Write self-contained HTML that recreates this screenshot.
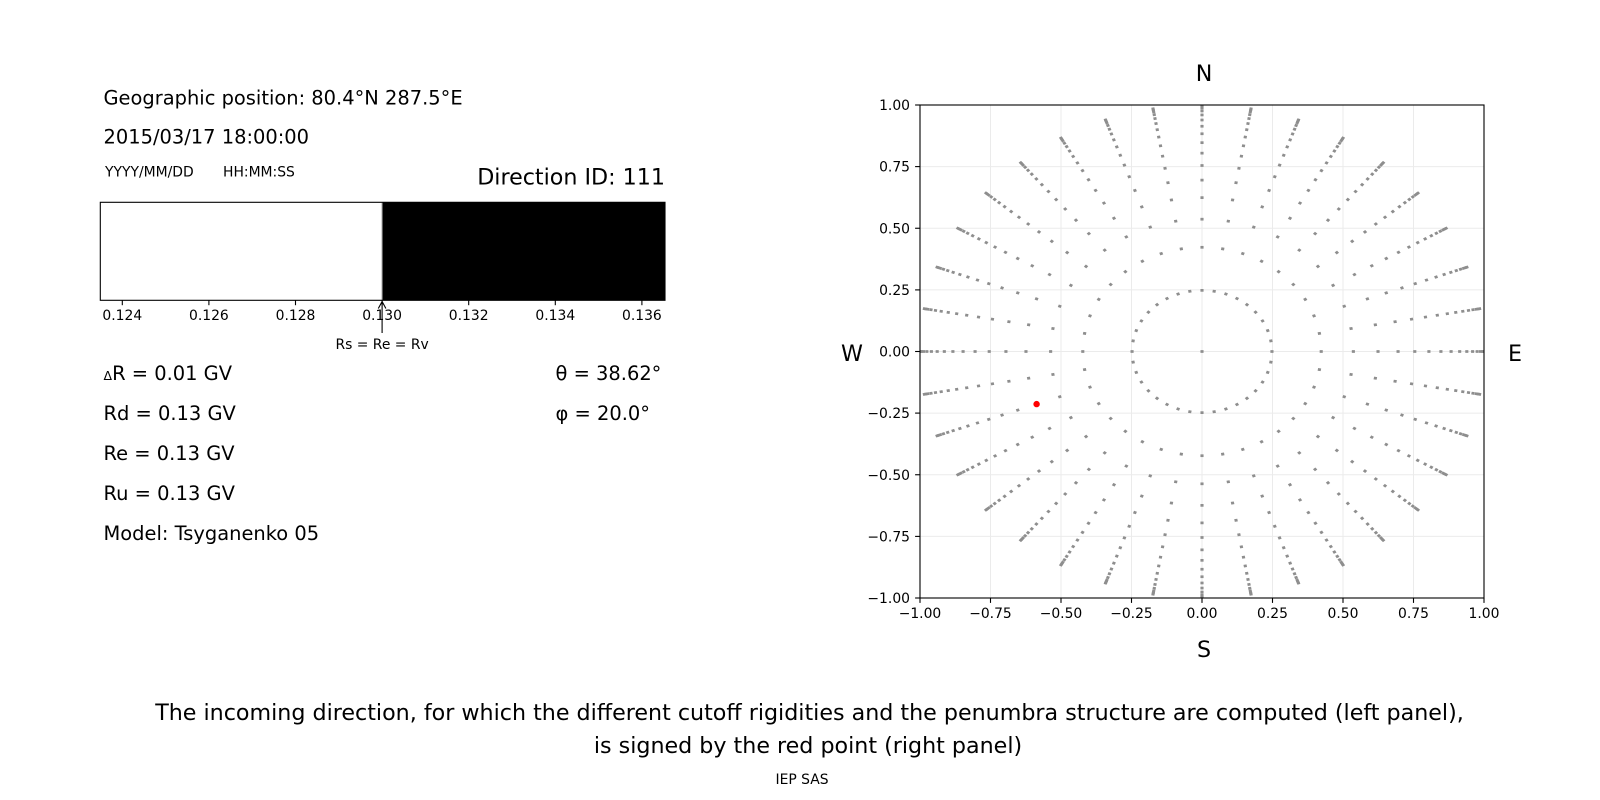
<!DOCTYPE html>
<html>
<head>
<meta charset="utf-8">
<style>
html,body{margin:0;padding:0;background:#fff;}
svg{display:block;}
text{font-family:"DejaVu Sans","Liberation Sans",sans-serif;fill:#000;}
</style>
</head>
<body>
<svg width="1600" height="800" viewBox="0 0 1600 800" xmlns="http://www.w3.org/2000/svg">
<defs>
  <clipPath id="axclip"><rect x="920" y="105" width="564" height="493"/></clipPath>
  <g id="sp" fill="#8e8e8e">
    <rect x="0.24254" y="-0.0055" width="0.011" height="0.011"/>
    <rect x="0.41724" y="-0.0055" width="0.011" height="0.011"/>
    <rect x="0.53124" y="-0.0055" width="0.011" height="0.011"/>
    <rect x="0.61872" y="-0.0055" width="0.011" height="0.011"/>
    <rect x="0.68977" y="-0.0055" width="0.011" height="0.011"/>
    <rect x="0.74905" y="-0.0055" width="0.011" height="0.011"/>
    <rect x="0.79915" y="-0.0055" width="0.011" height="0.011"/>
    <rect x="0.84172" y="-0.0055" width="0.011" height="0.011"/>
    <rect x="0.87783" y="-0.0055" width="0.011" height="0.011"/>
    <rect x="0.90826" y="-0.0055" width="0.011" height="0.011"/>
    <rect x="0.93356" y="-0.0055" width="0.011" height="0.011"/>
    <rect x="0.95414" y="-0.0055" width="0.011" height="0.011"/>
    <rect x="0.97028" y="-0.0055" width="0.011" height="0.011"/>
    <rect x="0.98222" y="-0.0055" width="0.011" height="0.011"/>
    <rect x="0.99009" y="-0.0055" width="0.011" height="0.011"/>
    <rect x="0.99401" y="-0.0055" width="0.011" height="0.011"/>
  </g>
</defs>

<!-- Top-left text -->
<text x="103.5" y="104.3" font-size="19.44">Geographic position: 80.4°N 287.5°E</text>
<text x="103.5" y="143.3" font-size="19.44">2015/03/17 18:00:00</text>
<text x="105" y="176.7" font-size="13.9">YYYY/MM/DD</text>
<text x="223" y="176.7" font-size="13.9">HH:MM:SS</text>
<text x="665" y="184.5" font-size="22.2" text-anchor="end">Direction ID: 111</text>

<!-- Bar panel -->
<rect x="100.3" y="202.3" width="281.8" height="98" fill="#ffffff"/>
<rect x="382.1" y="202.3" width="282.9" height="98" fill="#000000"/>
<line x1="382.1" y1="202.3" x2="382.1" y2="300.3" stroke="#9a9a9a" stroke-width="1"/>
<rect x="100.3" y="202.3" width="564.7" height="98" fill="none" stroke="#000" stroke-width="1.1"/>
<g stroke="#000" stroke-width="1.1">
  <line x1="122.3" y1="300.3" x2="122.3" y2="305.2"/>
  <line x1="208.9" y1="300.3" x2="208.9" y2="305.2"/>
  <line x1="295.5" y1="300.3" x2="295.5" y2="305.2"/>
  <line x1="382.1" y1="300.3" x2="382.1" y2="305.2"/>
  <line x1="468.7" y1="300.3" x2="468.7" y2="305.2"/>
  <line x1="555.3" y1="300.3" x2="555.3" y2="305.2"/>
  <line x1="641.9" y1="300.3" x2="641.9" y2="305.2"/>
</g>
<g font-size="13.9" text-anchor="middle">
  <text x="122.3" y="320">0.124</text>
  <text x="208.9" y="320">0.126</text>
  <text x="295.5" y="320">0.128</text>
  <text x="382.1" y="320">0.130</text>
  <text x="468.7" y="320">0.132</text>
  <text x="555.3" y="320">0.134</text>
  <text x="641.9" y="320">0.136</text>
</g>
<path d="M382.1,333 L382.1,301.5 M378.3,308.5 L382.1,301.5 L385.9,308.5" fill="none" stroke="#000" stroke-width="1.1"/>
<text x="382.1" y="349" font-size="13.9" text-anchor="middle">Rs = Re = Rv</text>

<!-- Values -->
<text x="103.5" y="380" font-size="19.44"><tspan font-size="12.5">Δ</tspan>R = 0.01 GV</text>
<text x="103.5" y="420" font-size="19.44">Rd = 0.13 GV</text>
<text x="103.5" y="460" font-size="19.44">Re = 0.13 GV</text>
<text x="103.5" y="500" font-size="19.44">Ru = 0.13 GV</text>
<text x="103.5" y="540" font-size="19.44">Model: Tsyganenko 05</text>
<text x="555.5" y="380" font-size="19.44">θ = 38.62°</text>
<text x="555.5" y="420" font-size="19.44">φ = 20.0°</text>

<!-- Right panel grid -->
<g stroke="#ebebeb" stroke-width="1">
  <line x1="990.5" y1="105" x2="990.5" y2="598"/>
  <line x1="1061" y1="105" x2="1061" y2="598"/>
  <line x1="1131.5" y1="105" x2="1131.5" y2="598"/>
  <line x1="1202" y1="105" x2="1202" y2="598"/>
  <line x1="1272.5" y1="105" x2="1272.5" y2="598"/>
  <line x1="1343" y1="105" x2="1343" y2="598"/>
  <line x1="1413.5" y1="105" x2="1413.5" y2="598"/>
  <line x1="920" y1="166.6" x2="1484" y2="166.6"/>
  <line x1="920" y1="228.25" x2="1484" y2="228.25"/>
  <line x1="920" y1="289.9" x2="1484" y2="289.9"/>
  <line x1="920" y1="351.5" x2="1484" y2="351.5"/>
  <line x1="920" y1="413.1" x2="1484" y2="413.1"/>
  <line x1="920" y1="474.75" x2="1484" y2="474.75"/>
  <line x1="920" y1="536.4" x2="1484" y2="536.4"/>
</g>

<!-- Scatter points -->
<g clip-path="url(#axclip)">
  <g transform="translate(1202,351.5) scale(282,-246.5)">
    <rect x="-0.0055" y="-0.0055" width="0.011" height="0.011" fill="#8e8e8e"/>
    <use href="#sp" transform="rotate(0)"/>
    <use href="#sp" transform="rotate(10)"/>
    <use href="#sp" transform="rotate(20)"/>
    <use href="#sp" transform="rotate(30)"/>
    <use href="#sp" transform="rotate(40)"/>
    <use href="#sp" transform="rotate(50)"/>
    <use href="#sp" transform="rotate(60)"/>
    <use href="#sp" transform="rotate(70)"/>
    <use href="#sp" transform="rotate(80)"/>
    <use href="#sp" transform="rotate(90)"/>
    <use href="#sp" transform="rotate(100)"/>
    <use href="#sp" transform="rotate(110)"/>
    <use href="#sp" transform="rotate(120)"/>
    <use href="#sp" transform="rotate(130)"/>
    <use href="#sp" transform="rotate(140)"/>
    <use href="#sp" transform="rotate(150)"/>
    <use href="#sp" transform="rotate(160)"/>
    <use href="#sp" transform="rotate(170)"/>
    <use href="#sp" transform="rotate(180)"/>
    <use href="#sp" transform="rotate(190)"/>
    <use href="#sp" transform="rotate(200)"/>
    <use href="#sp" transform="rotate(210)"/>
    <use href="#sp" transform="rotate(220)"/>
    <use href="#sp" transform="rotate(230)"/>
    <use href="#sp" transform="rotate(240)"/>
    <use href="#sp" transform="rotate(250)"/>
    <use href="#sp" transform="rotate(260)"/>
    <use href="#sp" transform="rotate(270)"/>
    <use href="#sp" transform="rotate(280)"/>
    <use href="#sp" transform="rotate(290)"/>
    <use href="#sp" transform="rotate(300)"/>
    <use href="#sp" transform="rotate(310)"/>
    <use href="#sp" transform="rotate(320)"/>
    <use href="#sp" transform="rotate(330)"/>
    <use href="#sp" transform="rotate(340)"/>
    <use href="#sp" transform="rotate(350)"/>
  </g>
  <circle cx="1036.6" cy="404.1" r="3.2" fill="#ff0000"/>
</g>

<!-- Right panel frame and ticks -->
<rect x="920" y="105" width="564" height="493" fill="none" stroke="#000" stroke-width="1.1"/>
<g stroke="#000" stroke-width="1.1">
  <line x1="915.1" y1="105" x2="920" y2="105"/>
  <line x1="915.1" y1="166.6" x2="920" y2="166.6"/>
  <line x1="915.1" y1="228.25" x2="920" y2="228.25"/>
  <line x1="915.1" y1="289.9" x2="920" y2="289.9"/>
  <line x1="915.1" y1="351.5" x2="920" y2="351.5"/>
  <line x1="915.1" y1="413.1" x2="920" y2="413.1"/>
  <line x1="915.1" y1="474.75" x2="920" y2="474.75"/>
  <line x1="915.1" y1="536.4" x2="920" y2="536.4"/>
  <line x1="915.1" y1="598" x2="920" y2="598"/>
  <line x1="920" y1="598" x2="920" y2="602.9"/>
  <line x1="990.5" y1="598" x2="990.5" y2="602.9"/>
  <line x1="1061" y1="598" x2="1061" y2="602.9"/>
  <line x1="1131.5" y1="598" x2="1131.5" y2="602.9"/>
  <line x1="1202" y1="598" x2="1202" y2="602.9"/>
  <line x1="1272.5" y1="598" x2="1272.5" y2="602.9"/>
  <line x1="1343" y1="598" x2="1343" y2="602.9"/>
  <line x1="1413.5" y1="598" x2="1413.5" y2="602.9"/>
  <line x1="1484" y1="598" x2="1484" y2="602.9"/>
</g>
<g font-size="13.9" text-anchor="end">
  <text x="910" y="110">1.00</text>
  <text x="910" y="171.6">0.75</text>
  <text x="910" y="233.25">0.50</text>
  <text x="910" y="294.9">0.25</text>
  <text x="910" y="356.5">0.00</text>
  <text x="910" y="418.1">−0.25</text>
  <text x="910" y="479.75">−0.50</text>
  <text x="910" y="541.4">−0.75</text>
  <text x="910" y="603">−1.00</text>
</g>
<g font-size="13.9" text-anchor="middle">
  <text x="920" y="618">−1.00</text>
  <text x="990.5" y="618">−0.75</text>
  <text x="1061" y="618">−0.50</text>
  <text x="1131.5" y="618">−0.25</text>
  <text x="1202" y="618">0.00</text>
  <text x="1272.5" y="618">0.25</text>
  <text x="1343" y="618">0.50</text>
  <text x="1413.5" y="618">0.75</text>
  <text x="1484" y="618">1.00</text>
</g>

<!-- Compass labels -->
<g font-size="22.2" text-anchor="middle">
  <text x="1204" y="81">N</text>
  <text x="1204" y="657">S</text>
  <text x="852" y="361">W</text>
  <text x="1515" y="361">E</text>
</g>

<!-- Caption -->
<g font-size="22.2" text-anchor="middle">
  <text x="809.5" y="720">The incoming direction, for which the different cutoff rigidities and the penumbra structure are computed (left panel),</text>
  <text x="808" y="753">is signed by the red point (right panel)</text>
</g>
<text x="802" y="784" font-size="13.9" text-anchor="middle">IEP SAS</text>
</svg>
</body>
</html>
